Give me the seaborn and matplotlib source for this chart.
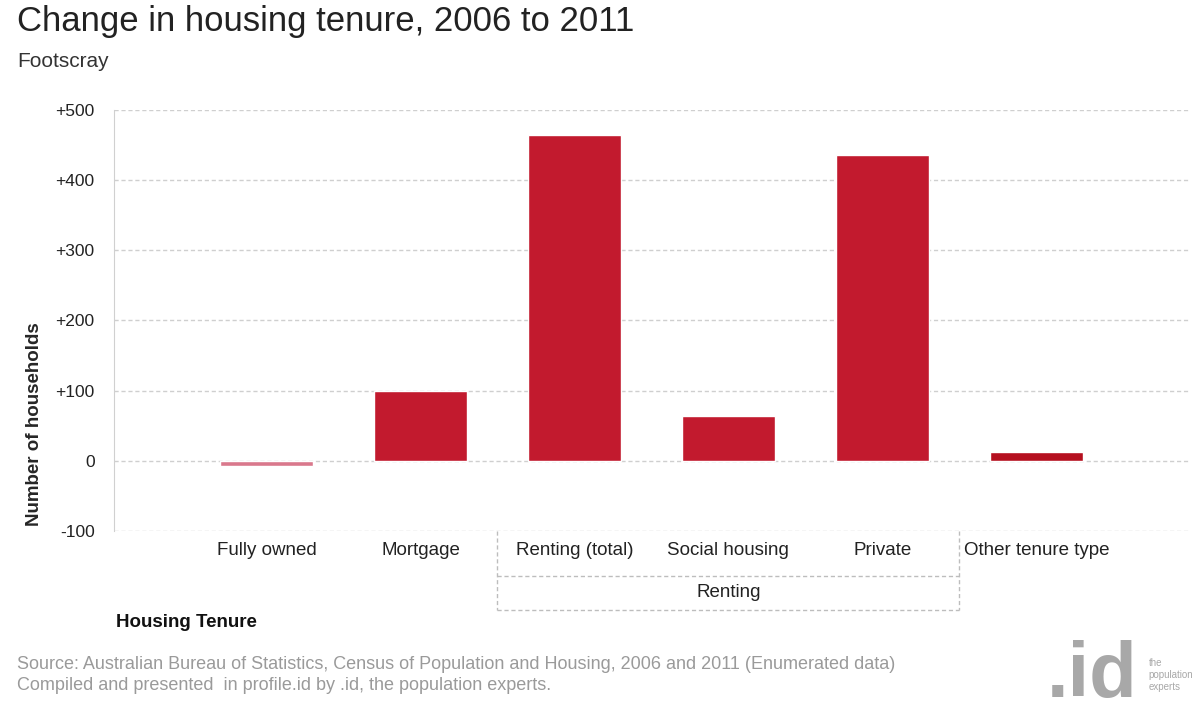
import matplotlib
matplotlib.use('Agg')
import matplotlib.pyplot as plt
import matplotlib.transforms as mtransforms
import seaborn as sns
import pandas as pd

categories = ['Fully owned', 'Mortgage', 'Renting (total)', 'Social housing', 'Private', 'Other tenure type']
change = [-7, 100, 465, 64, 436, 13]
bar_colors = ['#d9788c', '#c21a2e', '#c21a2e', '#c21a2e', '#c21a2e', '#b5101f']
y_ticks = [-100, 0, 100, 200, 300, 400, 500]
y_tick_labels = ['-100', '0', '+100', '+200', '+300', '+400', '+500']
group_label = 'Renting'
group_span = (1.5, 4.5)

sns.set_style('white')
plt.rcParams['font.family'] = ['Liberation Sans', 'DejaVu Sans']

df = pd.DataFrame({'tenure': categories, 'change': change})

fig = plt.figure(figsize=(12, 7.14), dpi=100)
ax = fig.add_axes([0.095, 0.2563, 0.897, 0.5897])

sns.barplot(data=df, x='tenure', y='change', hue='tenure', palette=bar_colors,
            saturation=1, width=0.6, legend=False, ax=ax, zorder=3)

ax.set_xlim(-0.99, 6.0)
ax.set_ylim(-100, 500)
ax.set_yticks(y_ticks)
ax.set_yticklabels(y_tick_labels)
ax.grid(axis='y', color='#cfcfcf', linestyle=(0, (3, 2)), linewidth=1, zorder=0)
ax.grid(axis='x', visible=False)
for side in ['top', 'right', 'bottom']:
    ax.spines[side].set_visible(False)
ax.spines['left'].set_color('#d0d0d0')
ax.tick_params(axis='y', length=12, color='#d0d0d0', labelsize=12.5, pad=2)
ax.tick_params(axis='x', length=0, labelsize=13.5, pad=8)
for lbl in ax.get_yticklabels():
    lbl.set_color('#222222')
for lbl in ax.get_xticklabels():
    lbl.set_color('#222222')
ax.set_xlabel('')
ax.set_ylabel('Number of households', fontsize=13.5, fontweight='bold')
ax.yaxis.set_label_coords(-0.066, 0.255)

# group box for "Renting"
trans = mtransforms.blended_transform_factory(ax.transData, ax.transAxes)
box_kw = dict(color='#bdbdbd', linestyle=(0, (3, 2)), linewidth=1, transform=trans, clip_on=False)
x0, x1 = group_span
ax.plot([x0, x0], [0, -0.188], **box_kw)
ax.plot([x1, x1], [0, -0.188], **box_kw)
ax.plot([x0, x1], [-0.107, -0.107], **box_kw)
ax.plot([x0, x1], [-0.188, -0.188], **box_kw)
ax.text((x0 + x1) / 2, -0.147, group_label, transform=trans, ha='center', va='center',
        fontsize=13.5, color='#222222')

fig.text(0.097, 0.128, 'Housing Tenure', fontsize=13.5, fontweight='bold', color='#111111', va='center')

fig.text(0.014, 0.970, 'Change in housing tenure, 2006 to 2011', fontsize=25, color='#222222', va='center')
fig.text(0.014, 0.914, 'Footscray', fontsize=15, color='#333333', va='center')

fig.text(0.014, 0.069, 'Source: Australian Bureau of Statistics, Census of Population and Housing, 2006 and 2011 (Enumerated data)',
         fontsize=13, color='#9a9a9a', va='center')
fig.text(0.014, 0.040, 'Compiled and presented  in profile.id by .id, the population experts.',
         fontsize=13, color='#9a9a9a', va='center')

fig.text(0.872, 0.052, '.id', fontsize=56, fontweight='bold', color='#a8a8a8', va='center')
fig.text(0.957, 0.055, 'the\npopulation\nexperts', fontsize=7, color='#a8a8a8', va='center', linespacing=1.25)

fig.savefig('out.png', dpi=100)
